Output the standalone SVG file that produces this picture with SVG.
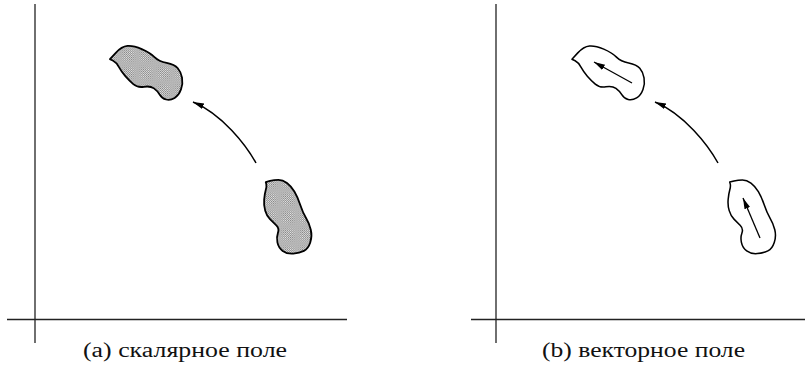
<svg xmlns="http://www.w3.org/2000/svg" width="805" height="371" viewBox="0 0 805 371">
<style>
.axis{stroke:#222;stroke-width:1.3;fill:none}
.blobS{fill:url(#dots);stroke:#000;stroke-width:1.7;stroke-linejoin:round}
.blobV{fill:#fff;stroke:#000;stroke-width:1.45;stroke-linejoin:round}
.arr{fill:none;stroke:#000;stroke-width:1.5;marker-end:url(#ah)}
.inarr{fill:none;stroke:#000;stroke-width:1.3;marker-end:url(#ah)}
.lbl{font-family:"Liberation Serif","DejaVu Serif",serif;font-size:20px;fill:#111}
</style>
<defs>
<pattern id="dots" width="2" height="2" patternUnits="userSpaceOnUse">
<rect width="2" height="2" fill="#e8e8e8"/>
<rect width="1" height="1" fill="#808080"/>
<rect x="1" y="1" width="1" height="1" fill="#808080"/>
</pattern>
<marker id="ah" markerUnits="userSpaceOnUse" markerWidth="12" markerHeight="8" refX="11" refY="3" orient="auto">
<path d="M0,0 L11,3 L0,6 Z" fill="#000"/>
</marker>
<path id="blobTop" d="M112,60 L117.5,54 Q123,48 128.5,47.5 Q134,47 142,50.5 Q150,54 154,58 Q158,62 165.5,63.5 Q173,65 176,68.5 Q179,72 180,77.5 Q181,83 179,88.5 Q177,94 173,96.5 Q169,99 165,98 Q161,97 159,93.5 Q157,90 153.5,87.5 Q150,85 144,86 Q138,87 134,83.5 Q130,80 126.5,76 Q123,72 120.5,67.5 Q118,63 115,61.5 L112,60 Z" transform="translate(146,73) scale(1.06) translate(-146,-73)"/>
<path id="blobBot" d="M267,184 L271,183 Q275,182 279,182 Q283,182 287,185 Q291,188 294,193 Q297,198 299.5,205.5 Q302,213 305,218 Q308,223 309.5,229 Q311,235 309,241 Q307,247 303,249 Q299,251 293,251.5 Q287,252 283,249 Q279,246 278,241 Q277,236 278.5,232 Q280,228 277,225 Q274,222 271,219 Q268,216 266.5,211 Q265,206 265.5,200.5 Q266,195 267,191.5 Q268,188 267.5,186 L267,184 Z" transform="translate(288,217) scale(1.06) translate(-288,-217)"/>
</defs>

<g id="axes-a">
<line class="axis" x1="35" y1="4" x2="35" y2="343"/>
<line class="axis" x1="7" y1="319.5" x2="347" y2="319.5"/>
</g>
<g id="axes-b">
<line class="axis" x1="496" y1="4" x2="496" y2="343"/>
<line class="axis" x1="471" y1="319.5" x2="805" y2="319.5"/>
</g>

<g id="blob-a-top"><use href="#blobTop" class="blobS"/></g>
<g id="blob-a-bottom"><use href="#blobBot" class="blobS"/></g>
<g id="blob-b-top" transform="translate(462,0)"><use href="#blobTop" class="blobV"/></g>
<g id="blob-b-bottom" transform="translate(464,0)"><use href="#blobBot" class="blobV"/></g>

<g id="connectors">
<path class="arr" d="M256,163 C246,145 222,114 193,102"/>
<path class="arr" d="M718,163 C708,145 684,114 655,102"/>
<path class="inarr" d="M632,83 L594,62"/>
<path class="inarr" d="M760,238 L743,198"/>
</g>

<g id="labels">
<text class="lbl" x="83" y="357" textLength="204" lengthAdjust="spacingAndGlyphs">(a) скалярное поле</text>
<text class="lbl" x="542" y="357" textLength="203" lengthAdjust="spacingAndGlyphs">(b) векторное поле</text>
</g>
</svg>
